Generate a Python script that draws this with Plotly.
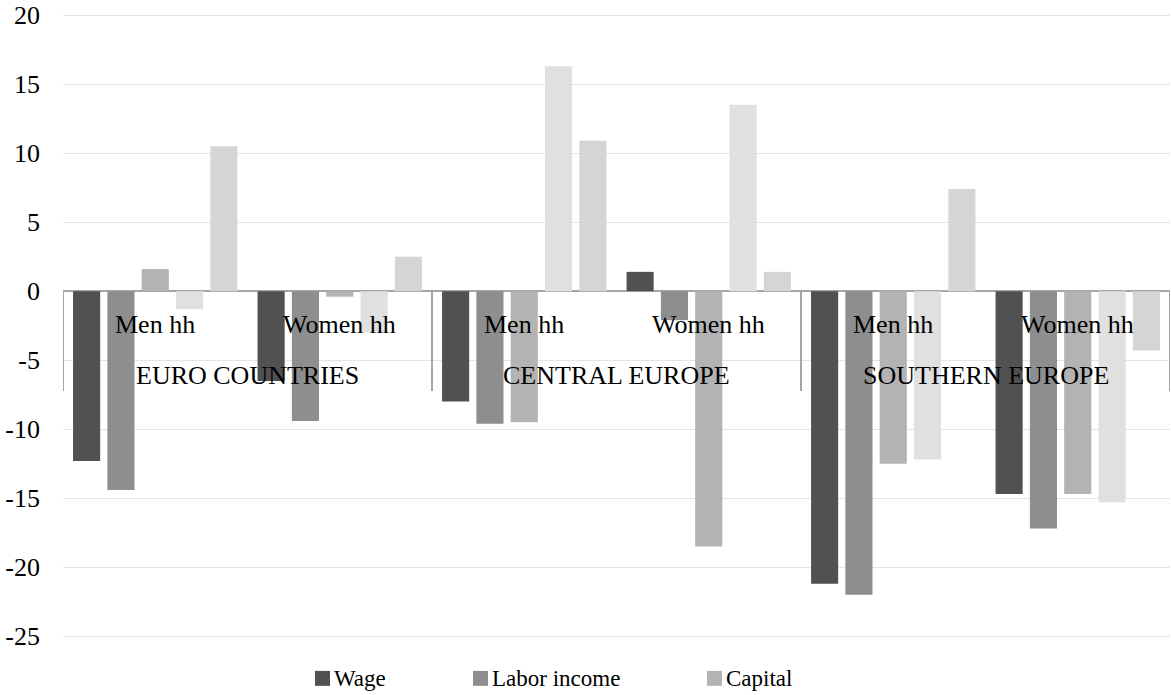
import plotly.graph_objects as go

# Categories: two household types within three regions
regions = ["EURO COUNTRIES", "CENTRAL EUROPE", "SOUTHERN EUROPE"]
households = ["Men hh", "Women hh"]

# Series values, one per (region, household) pair
wage = [-12.3, -6.5, -8.0, 1.4, -21.2, -14.7]
labor_income = [-14.4, -9.4, -9.6, -2.1, -22.0, -17.2]
capital = [1.6, -0.4, -9.5, -18.5, -12.5, -14.7]
series4 = [-1.3, -3.0, 16.3, 13.5, -12.2, -15.3]
series5 = [10.5, 2.5, 10.9, 1.4, 7.4, -4.3]

legend_names = ["Wage", "Labor income", "Capital"]
y_ticks = [20, 15, 10, 5, 0, -5, -10, -15, -20, -25]

W, H = 1171, 695
ML, MR, MT, MB = 63, 1, 9, 56
PW, PH = W - ML - MR, H - MT - MB
Y0, Y1 = -25.2, 20.3

FONT = "Liberation Serif"

colors = ["#515151", "#8e8e8e", "#b3b3b3", "#e0e0e0", "#d5d5d5"]
series = [wage, labor_income, capital, series4, series5]
names = legend_names + ["Series 4", "Series 5"]

xpos = list(range(len(regions) * len(households)))

fig = go.Figure()
for vals, col, nm in zip(series, colors, names):
    fig.add_trace(go.Bar(x=xpos, y=vals, name=nm, marker_color=col,
                         marker_line_width=0, showlegend=False))


def px_x(p):
    return (p - ML) / PW


def px_y(p):
    return (H - MB - p) / PH


annotations = []
shapes = []

# Inner category labels
for i, x in enumerate(xpos):
    annotations.append(dict(x=x, y=-2.38, xref="x", yref="y", text=households[i % 2],
                            showarrow=False, font=dict(family=FONT, size=26, color="#000000"),
                            xanchor="center", yanchor="middle"))
# Outer category labels
for r, name in enumerate(regions):
    annotations.append(dict(x=2 * r + 0.5, y=-6.14, xref="x", yref="y", text=name,
                            showarrow=False, font=dict(family=FONT, size=26, color="#000000"),
                            xanchor="center", yanchor="middle"))

# Region separators below the zero axis
for b in [-0.5, 1.5, 3.5, 5.5]:
    shapes.append(dict(type="line", x0=b, x1=b, y0=0, y1=-7.23, xref="x", yref="y",
                       line=dict(color="#a6a6a6", width=2)))

# Legend (three keyed entries)
legend_pos = [(315, 332), (473, 490), (707, 724)]
for (sx, tx), nm, col in zip(legend_pos, legend_names, colors):
    shapes.append(dict(type="rect", xref="paper", yref="paper",
                       x0=px_x(sx), x1=px_x(sx + 15), y0=px_y(686), y1=px_y(671),
                       fillcolor=col, line=dict(width=0)))
    annotations.append(dict(x=px_x(tx), y=px_y(679), xref="paper", yref="paper", text=nm,
                            showarrow=False, xanchor="left", yanchor="middle",
                            font=dict(family=FONT, size=23, color="#000000")))

fig.update_layout(
    width=W, height=H,
    margin=dict(l=ML, r=MR, t=MT, b=MB, pad=0),
    paper_bgcolor="white", plot_bgcolor="white",
    barmode="group", bargap=0.07, bargroupgap=0.21,
    font=dict(family=FONT, size=26, color="#000000"),
    showlegend=False,
    annotations=annotations, shapes=shapes,
    xaxis=dict(range=[-0.5, 5.5], showticklabels=False, showgrid=False,
               zeroline=False, showline=False, ticks=""),
    yaxis=dict(range=[Y0, Y1], tickvals=y_ticks, ticktext=[str(v) for v in y_ticks],
               showgrid=True, gridcolor="#e4e4e4", gridwidth=1,
               zeroline=True, zerolinecolor="#a6a6a6", zerolinewidth=2,
               showline=False, ticks="", ticklabelstandoff=22,
               ticklabeloverflow="allow",
               tickfont=dict(family=FONT, size=26, color="#000000")),
)

fig.write_html("out.html")
